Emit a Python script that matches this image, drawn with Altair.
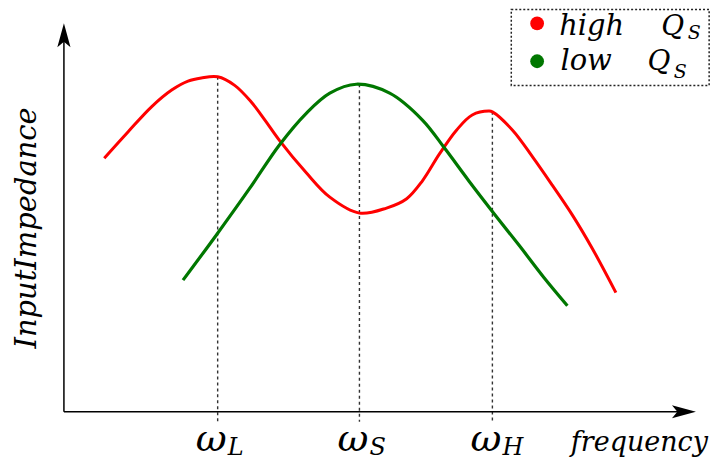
import altair as alt
import pandas as pd

# ---- data (x: frequency 0-100, y: impedance 0-100) ----
red_x = [6.4, 10.2, 13.9, 17.1, 19.7, 21.8, 24.4, 27.1, 29.7, 31.9, 34.2, 38.5, 42.2, 46.9,
         51.2, 54.4, 56.9, 59.6, 62.3, 64.8, 67.5, 68.0, 71.2, 74.4, 77.5, 80.7, 83.9, 87.6]
red_y = [65.1, 71.9, 78.3, 82.6, 84.9, 85.7, 86.0, 83.8, 79.6, 74.9, 69.7, 61.3, 55.1, 51.0,
         52.3, 54.7, 59.3, 66.2, 72.3, 76.2, 77.2, 77.0, 72.3, 65.4, 58.2, 50.5, 41.8, 30.6]
green_x = [18.9, 24.2, 29.5, 34.2, 38.5, 42.2, 46.4, 51.7, 56.9, 60.4, 64.3, 68.3, 72.3, 76.2, 79.9]
green_y = [33.8, 45.4, 57.4, 68.5, 76.7, 81.8, 84.1, 81.8, 74.9, 67.7, 59.2, 50.8, 42.6, 34.4, 27.2]

series_names = ["high Q_S", "low Q_S"]
series_colors = ["#ff0000", "#007700"]

omega_x = [24.4, 46.9, 68.0]
omega_top = [86.0, 84.1, 77.0]
omega_sub = ["L", "S", "H"]

legend_words = ["high", "low"]
legend_y = [99.7, 90.0]

xs = alt.Scale(domain=[0, 100], nice=False, zero=False)
ys = alt.Scale(domain=[0, 100], nice=False, zero=False)
cs = alt.Scale(domain=series_names, range=series_colors)
FONT = "DejaVu Serif"

red = pd.DataFrame({"f": red_x, "z": red_y})
green = pd.DataFrame({"f": green_x, "z": green_y})
line_red = alt.Chart(red).mark_line(strokeWidth=3, interpolate="catmull-rom", color=series_colors[0]).encode(
    x=alt.X("f:Q", scale=xs, axis=None), y=alt.Y("z:Q", scale=ys, axis=None))
line_green = alt.Chart(green).mark_line(strokeWidth=3.2, interpolate="catmull-rom", color=series_colors[1]).encode(
    x=alt.X("f:Q", scale=xs, axis=None), y=alt.Y("z:Q", scale=ys, axis=None))

marks = pd.DataFrame({"f": omega_x, "top": omega_top, "bot": [-2.6] * 3, "sub": omega_sub, "w": ["ω"] * 3})
vlines = alt.Chart(marks).mark_rule(color="#333333", strokeWidth=1.4, strokeDash=[3, 3]).encode(
    x=alt.X("f:Q", scale=xs, axis=None), y=alt.Y("top:Q", scale=ys, axis=None), y2="bot:Q"
)
omega = alt.Chart(marks).mark_text(
    font=FONT, fontStyle="italic", fontSize=38, align="right", baseline="alphabetic", dx=9
).encode(x=alt.X("f:Q", scale=xs, axis=None), y=alt.value(429), text="w:N")
subs = alt.Chart(marks).mark_text(
    font=FONT, fontStyle="italic", fontSize=24, align="left", baseline="alphabetic", dx=10
).encode(x=alt.X("f:Q", scale=xs, axis=None), y=alt.value(433), text="sub:N")

# axes with arrows
axes = pd.DataFrame({"x1": [0, 0], "y1": [0, 0], "x2": [0, 98.4], "y2": [96.7, 0]})
axis_lines = alt.Chart(axes).mark_rule(color="black", strokeWidth=1.5).encode(
    x=alt.X("x1:Q", scale=xs, axis=None), y=alt.Y("y1:Q", scale=ys, axis=None), x2="x2:Q", y2="y2:Q"
)
arrows = pd.DataFrame({"x": [98.4, 0], "y": [0, 96.7]})
arr_r = alt.Chart(arrows.iloc[[0]]).mark_point(
    shape="M1,0L-1,-0.55L-0.55,0L-1,0.55Z", filled=True, color="black", size=576, opacity=1
).encode(x=alt.X("x:Q", scale=xs, axis=None), y=alt.Y("y:Q", scale=ys, axis=None))
arr_u = alt.Chart(arrows.iloc[[1]]).mark_point(
    shape="M0,-1L-0.55,1L0,0.55L0.55,1Z", filled=True, color="black", size=576, opacity=1
).encode(x=alt.X("x:Q", scale=xs, axis=None), y=alt.Y("y:Q", scale=ys, axis=None))

xlabel = alt.Chart(pd.DataFrame({"x": [102.2], "t": ["frequency"]})).mark_text(
    font=FONT, fontStyle="italic", fontSize=27, align="right", baseline="alphabetic"
).encode(x=alt.X("x:Q", scale=xs, axis=None), y=alt.value(429), text="t:N")
ylabel = alt.Chart(pd.DataFrame({"x": [-5.9], "y": [47.2], "t": ["InputImpedance"]})).mark_text(
    font=FONT, fontStyle="italic", fontSize=29, angle=270, align="center", baseline="middle"
).encode(x=alt.X("x:Q", scale=xs, axis=None), y=alt.Y("y:Q", scale=ys, axis=None), text="t:N")

# legend
box = alt.Chart(pd.DataFrame({"x": [71.0], "x2": [102.4], "y": [103.3], "y2": [83.8]})).mark_rect(
    fillOpacity=0, color="white", stroke="#222222", strokeWidth=1.5, strokeDash=[2, 2]
).encode(x=alt.X("x:Q", scale=xs, axis=None), x2="x2:Q", y=alt.Y("y:Q", scale=ys, axis=None), y2="y2:Q")
leg = pd.DataFrame({"s": series_names, "w": legend_words, "y": legend_y,
                    "x": [75.1, 75.1], "tx": [78.6, 78.8], "qx": [94.8, 92.6], "sx": [99.0, 96.8],
                    "ty": [96.7, 87.7], "sy": [95.6, 85.6], "q": ["Q", "Q"], "ssub": ["S", "S"]})
dots = alt.Chart(leg).mark_point(shape="circle", filled=True, size=190, opacity=1).encode(
    x=alt.X("x:Q", scale=xs, axis=None), y=alt.Y("y:Q", scale=ys, axis=None),
    color=alt.Color("s:N", scale=cs, legend=None),
)
words = alt.Chart(leg).mark_text(font=FONT, fontStyle="italic", fontSize=29, align="left",
                                 baseline="alphabetic").encode(
    x=alt.X("tx:Q", scale=xs, axis=None), y=alt.Y("ty:Q", scale=ys, axis=None), text="w:N")
qs = alt.Chart(leg).mark_text(font=FONT, fontStyle="italic", fontSize=28, align="left",
                              baseline="alphabetic").encode(
    x=alt.X("qx:Q", scale=xs, axis=None), y=alt.Y("ty:Q", scale=ys, axis=None), text="q:N")
ss = alt.Chart(leg).mark_text(font=FONT, fontStyle="italic", fontSize=19, align="left",
                              baseline="alphabetic").encode(
    x=alt.X("sx:Q", scale=xs, axis=None), y=alt.Y("sy:Q", scale=ys, axis=None), text="ssub:N")

chart = alt.layer(
    vlines, axis_lines, arr_r, arr_u, line_red, line_green, omega, subs, xlabel, ylabel, box, dots, words, qs, ss
).properties(
    width=631, height=390,
    autosize=alt.AutoSizeParams(type="none"),
    padding={"left": 56, "top": 14, "right": 16, "bottom": 50},
).configure_view(stroke=None)

chart.save("out.html", embed_options={"renderer": "svg", "actions": False})
